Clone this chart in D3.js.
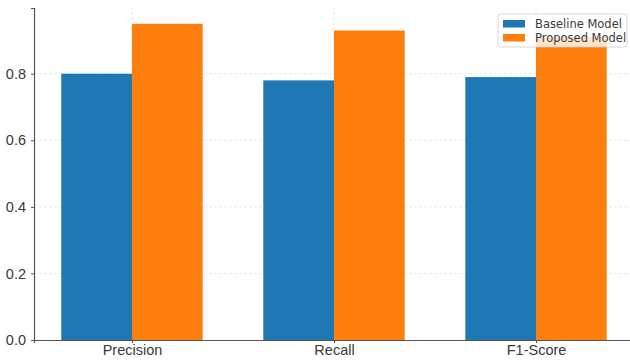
<!DOCTYPE html>
<html>
<meta charset="utf-8">
<title>model comparison</title>
<style>
html,body{ margin:0; background:#fff; }
svg { font-family: "DejaVu Sans", sans-serif; }
.grid line { stroke:#e2e2e2; stroke-dasharray:3,2; stroke-width:0.8; }
.tick text { fill:#3a3a3a; }
</style>
<script src="https://cdn.jsdelivr.net/npm/d3@7"></script>
<body>
<script>
var categories = ["Precision", "Recall", "F1-Score"];
var baseline = [0.80, 0.78, 0.79];
var proposed = [0.95, 0.93, 0.91];
var seriesNames = ["Baseline Model", "Proposed Model"];
var colors = ["#1f77b4", "#ff7f0e"];
var yTicks = [0, 0.2, 0.4, 0.6, 0.8];

var width = 630, height = 360;
var barW = 0.35;

var svg = d3.select("body").append("svg")
    .attr("width", width)
    .attr("height", height);

// index-based x scale, like matplotlib's bar positions
var x = d3.scaleLinear().domain([-0.485, 2.485]).range([34, 634]);
var y = d3.scaleLinear().domain([0, 0.9975]).range([340, 8]);

// grid
var grid = svg.append("g").attr("class", "grid");
grid.selectAll(".h").data(yTicks.slice(1)).enter().append("line")
    .attr("x1", x.range()[0]).attr("x2", x.range()[1])
    .attr("y1", d => y(d)).attr("y2", d => y(d));
grid.selectAll(".v").data(categories).enter().append("line")
    .attr("x1", (d, i) => x(i)).attr("x2", (d, i) => x(i))
    .attr("y1", y.range()[0]).attr("y2", y.range()[1]);

// bars
var series = [baseline, proposed];
series.forEach(function(vals, s) {
  svg.append("g").selectAll("rect")
    .data(vals).enter().append("rect")
    .attr("x", (d, i) => x(i + (s === 0 ? -barW : 0)))
    .attr("width", x(barW) - x(0))
    .attr("y", d => y(d))
    .attr("height", d => y(0) - y(d))
    .attr("fill", colors[s]);
});

// axes
var yAxis = d3.axisLeft(y).tickValues(yTicks).tickFormat(d3.format(".1f"))
    .tickSize(3).tickPadding(5);
var gy = svg.append("g").attr("transform", "translate(" + x.range()[0] + ",0)").call(yAxis);
gy.selectAll("text").style("font-size", "14.5px");
gy.select(".domain").attr("stroke", "#555").attr("stroke-width", 1.2);
gy.selectAll(".tick line").attr("stroke", "#555");

var xAxis = d3.axisBottom(x).tickValues([0, 1, 2]).tickFormat((d) => categories[d])
    .tickSize(3).tickPadding(2);
var gx = svg.append("g").attr("transform", "translate(0," + y(0) + ")").call(xAxis);
gx.selectAll("text").style("font-size", "14.5px");
gx.select(".domain").attr("stroke", "#555").attr("stroke-width", 1.2);
gx.selectAll(".tick line").attr("stroke", "#555");

// legend
var leg = svg.append("g").attr("transform", "translate(498,14)");
leg.append("rect")
    .attr("width", 129).attr("height", 33).attr("rx", 2.5)
    .attr("fill", "#fff").attr("fill-opacity", 0.8)
    .attr("stroke", "#ccc").attr("stroke-width", 0.8);
seriesNames.forEach(function(name, i) {
  leg.append("rect")
    .attr("x", 5).attr("y", 6 + i * 14)
    .attr("width", 22).attr("height", 7.5)
    .attr("fill", colors[i]);
  leg.append("text")
    .attr("x", 37).attr("y", 14 + i * 14)
    .style("font-size", "11.5px").attr("fill", "#3a3a3a")
    .text(name);
});
</script>
</body>
</html>
